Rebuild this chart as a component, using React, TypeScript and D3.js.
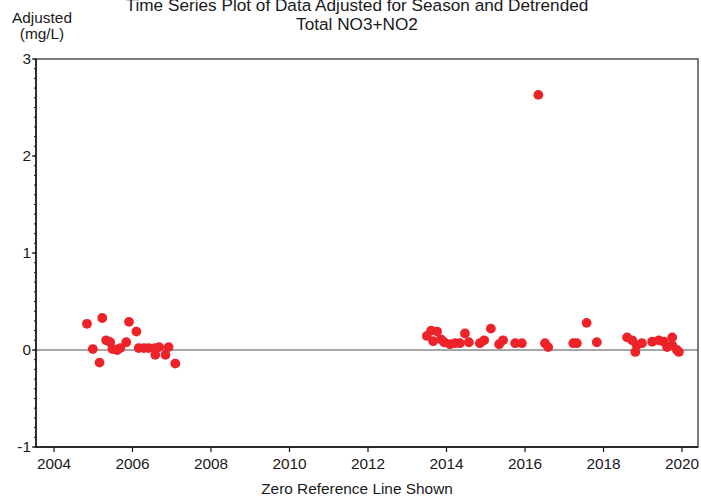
import React from "react";
import * as d3 from "d3";

const years: number[] = [
  2004.84, 2004.99, 2005.16, 2005.23, 2005.33, 2005.43, 2005.49, 2005.61, 2005.69, 2005.84,
  2005.91, 2006.10, 2006.16, 2006.29, 2006.41, 2006.57, 2006.58, 2006.68, 2006.84, 2006.92,
  2007.09,
  2013.50, 2013.61, 2013.76, 2013.66, 2013.86, 2013.94, 2014.09, 2014.22, 2014.34, 2014.47,
  2014.57, 2014.85, 2014.96, 2015.13, 2015.34, 2015.44, 2015.75, 2015.92, 2016.34, 2016.51,
  2016.59, 2017.23, 2017.32, 2017.57, 2017.83,
  2018.60, 2018.73, 2018.85, 2018.81, 2018.98, 2019.24, 2019.41, 2019.54, 2019.62, 2019.75,
  2019.75, 2019.87, 2019.92,
];
const adjusted: number[] = [
  0.27, 0.01, -0.13, 0.33, 0.10, 0.08, 0.01, 0.0, 0.02, 0.08,
  0.29, 0.19, 0.02, 0.02, 0.02, 0.02, -0.05, 0.03, -0.05, 0.03,
  -0.14,
  0.145, 0.20, 0.19, 0.09, 0.11, 0.08, 0.06, 0.07, 0.07, 0.17,
  0.08, 0.07, 0.10, 0.22, 0.06, 0.10, 0.07, 0.07, 2.63, 0.07,
  0.03, 0.07, 0.07, 0.28, 0.08,
  0.13, 0.10, 0.05, -0.02, 0.07, 0.085, 0.10, 0.085, 0.03, 0.13,
  0.05, 0.0, -0.02,
];
const xTicks: number[] = [2004, 2006, 2008, 2010, 2012, 2014, 2016, 2018, 2020];
const yTicks: number[] = [-1, 0, 1, 2, 3];
const titleLines: string[] = [
  "Time Series Plot of Data Adjusted for Season and Detrended",
  "Total NO3+NO2",
];
const yLabelLines: string[] = ["Adjusted", "(mg/L)"];
const xLabel = "Zero Reference Line Shown";

export default function App() {
  const W = 701, H = 497;
  const left = 36, right = 698, top = 59, bottom = 447;
  const x = d3.scaleLinear().domain([2004, 2020]).range([54, 682]);
  const y = d3.scaleLinear().domain([-1, 3]).range([bottom, top]);
  const minor = d3.range(-1, 3.0001, 0.1).map((v) => Math.round(v * 10) / 10);
  const font = "'Liberation Sans', Arial, sans-serif";
  const fs = 15.4;
  const tfs = 17.2;
  const red = "#ee2229";
  const ink = "#1a1a1a";
  return (
    <svg
      width={W}
      height={H}
      style={{ position: "absolute", left: 0, top: 0, background: "#fff" }}
      fontFamily={font}
    >
      <rect x={0} y={0} width={W} height={H} fill="#fff" />
      <text x={357} y={11} textAnchor="middle" fontSize={tfs} fill={ink}>
        {titleLines[0]}
      </text>
      <text x={357} y={30} textAnchor="middle" fontSize={tfs} fill={ink}>
        {titleLines[1]}
      </text>
      <text x={42} y={23} textAnchor="middle" fontSize={fs} fill={ink}>
        {yLabelLines[0]}
      </text>
      <text x={42} y={39} textAnchor="middle" fontSize={fs} fill={ink}>
        {yLabelLines[1]}
      </text>
      <line x1={left} x2={right} y1={y(0)} y2={y(0)} stroke="#8a8a8a" strokeWidth={1.4} />
      <rect x={left} y={top} width={right - left} height={bottom - top} fill="none" stroke="#444" strokeWidth={1.4} />
      <line x1={left} x2={left} y1={top} y2={bottom} stroke="#111" strokeWidth={1.4} />
      <line x1={left} x2={right} y1={bottom} y2={bottom} stroke="#111" strokeWidth={1.4} />
      {minor.map((v) => (
        <line key={"m" + v} x1={left - 2} x2={left} y1={y(v)} y2={y(v)} stroke="#111" strokeWidth={1} />
      ))}
      {yTicks.map((v) => (
        <g key={"y" + v}>
          <line x1={left - 4} x2={left} y1={y(v)} y2={y(v)} stroke="#111" strokeWidth={1.2} />
          <text x={left - 5} y={y(v) + 5} textAnchor="end" fontSize={fs} fill={ink}>
            {v}
          </text>
        </g>
      ))}
      {xTicks.map((v) => (
        <g key={"x" + v}>
          <line x1={x(v)} x2={x(v)} y1={bottom} y2={bottom + 5} stroke="#111" strokeWidth={1.2} />
          <text x={x(v)} y={bottom + 22} textAnchor="middle" fontSize={fs} fill={ink}>
            {v}
          </text>
        </g>
      ))}
      <text x={357} y={494} textAnchor="middle" fontSize={fs} fill={ink}>
        {xLabel}
      </text>
      {years.map((t, i) => (
        <circle key={i} cx={x(t)} cy={y(adjusted[i])} r={4.9} fill={red} />
      ))}
    </svg>
  );
}
